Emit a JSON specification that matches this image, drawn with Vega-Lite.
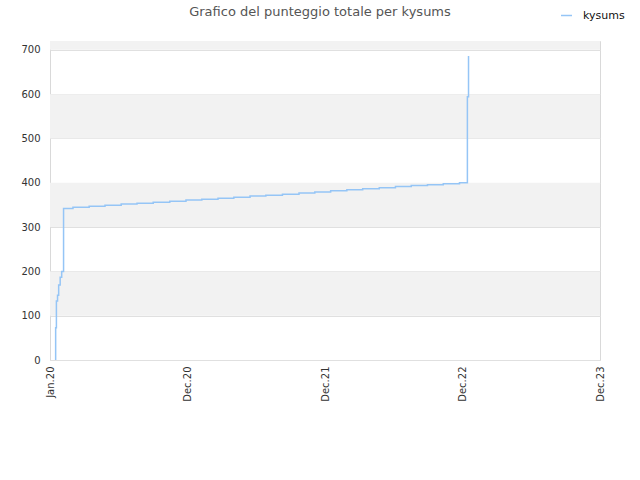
{
  "$schema": "https://vega.github.io/schema/vega-lite/v6.json",
  "width": 550,
  "height": 319,
  "autosize": {"type": "none"},
  "padding": {"left": 50, "top": 41, "right": 40, "bottom": 120},
  "title": {
    "text": "Grafico del punteggio totale per kysums",
    "anchor": "middle",
    "frame": "group",
    "fontSize": 13,
    "fontWeight": "normal",
    "font": "DejaVu Sans",
    "color": "#555555",
    "offset": -10,
    "dx": -5
  },
  "datasets": {
    "bands": [
      {"lo": 100, "hi": 200},
      {"lo": 300, "hi": 400},
      {"lo": 500, "hi": 600},
      {"lo": 700, "hi": 720}
    ],
    "scores": [
      {"date": "2020-01-16", "score": 0},
      {"date": "2020-01-16", "score": 73},
      {"date": "2020-01-18", "score": 133},
      {"date": "2020-01-21", "score": 146},
      {"date": "2020-01-24", "score": 169},
      {"date": "2020-01-28", "score": 187},
      {"date": "2020-02-01", "score": 200},
      {"date": "2020-02-06", "score": 342},
      {"date": "2020-03-02", "score": 345},
      {"date": "2020-04-14", "score": 347},
      {"date": "2020-05-26", "score": 349.5},
      {"date": "2020-07-08", "score": 352},
      {"date": "2020-08-19", "score": 354},
      {"date": "2020-10-01", "score": 356},
      {"date": "2020-11-14", "score": 358.5},
      {"date": "2020-12-27", "score": 361},
      {"date": "2021-02-07", "score": 363},
      {"date": "2021-03-22", "score": 365},
      {"date": "2021-05-03", "score": 367.5},
      {"date": "2021-06-15", "score": 370},
      {"date": "2021-07-27", "score": 372},
      {"date": "2021-09-09", "score": 374},
      {"date": "2021-10-23", "score": 377},
      {"date": "2021-12-04", "score": 379},
      {"date": "2022-01-15", "score": 382},
      {"date": "2022-02-27", "score": 384},
      {"date": "2022-04-10", "score": 386.5},
      {"date": "2022-05-24", "score": 388.7},
      {"date": "2022-07-06", "score": 391.5},
      {"date": "2022-08-17", "score": 394},
      {"date": "2022-09-29", "score": 395.5},
      {"date": "2022-11-10", "score": 397.7},
      {"date": "2022-12-23", "score": 400},
      {"date": "2023-01-13", "score": 594},
      {"date": "2023-01-16", "score": 686}
    ]
  },
  "layer": [
    {
      "data": {"name": "bands"},
      "mark": {"type": "rect", "fill": "#f2f2f2"},
      "encoding": {
        "y": {
          "field": "lo",
          "type": "quantitative",
          "scale": {"domain": [0, 720], "nice": false},
          "axis": {
            "title": null,
            "values": [0, 100, 200, 300, 400, 500, 600, 700],
            "ticks": false,
            "domain": false,
            "grid": true,
            "gridColor": "#e0e0e0",
            "labelPadding": 10
          }
        },
        "y2": {"field": "hi"}
      }
    },
    {
      "data": {"name": "scores"},
      "mark": {"type": "line", "interpolate": "step-after", "strokeWidth": 1.5},
      "encoding": {
        "x": {
          "field": "date",
          "type": "temporal",
          "scale": {
            "type": "utc",
            "domain": [
              {"year": 2020, "month": 1, "date": 1, "utc": true},
              {"year": 2023, "month": 12, "date": 31, "utc": true}
            ]
          },
          "axis": {
            "title": null,
            "values": [
              {"year": 2020, "month": 1, "date": 1, "utc": true},
              {"year": 2020, "month": 12, "date": 31, "utc": true},
              {"year": 2021, "month": 12, "date": 31, "utc": true},
              {"year": 2022, "month": 12, "date": 31, "utc": true},
              {"year": 2023, "month": 12, "date": 31, "utc": true}
            ],
            "format": "%b.%y",
            "labelAngle": -90,
            "labelAlign": "right",
            "labelBaseline": "middle",
            "labelPadding": 6,
            "ticks": false,
            "domain": false,
            "grid": false,
            "labelFlush": false,
            "labelOverlap": false
          }
        },
        "y": {
          "field": "score",
          "type": "quantitative",
          "title": null
        },
        "color": {
          "datum": "kysums",
          "type": "nominal",
          "scale": {"range": ["#95c5f6"]},
          "legend": {
            "title": null,
            "orient": "none",
            "legendX": 510,
            "legendY": -32,
            "symbolType": "stroke",
            "symbolStrokeWidth": 1.5,
            "symbolSize": 120,
            "labelOffset": 10,
            "labelFontSize": 11,
            "labelColor": "#111111",
            "labelFont": "DejaVu Sans"
          }
        }
      }
    }
  ],
  "config": {
    "view": {"stroke": "#d9d9d9"},
    "axis": {
      "labelFont": "DejaVu Sans",
      "labelFontSize": 10,
      "labelColor": "#333333"
    }
  }
}
